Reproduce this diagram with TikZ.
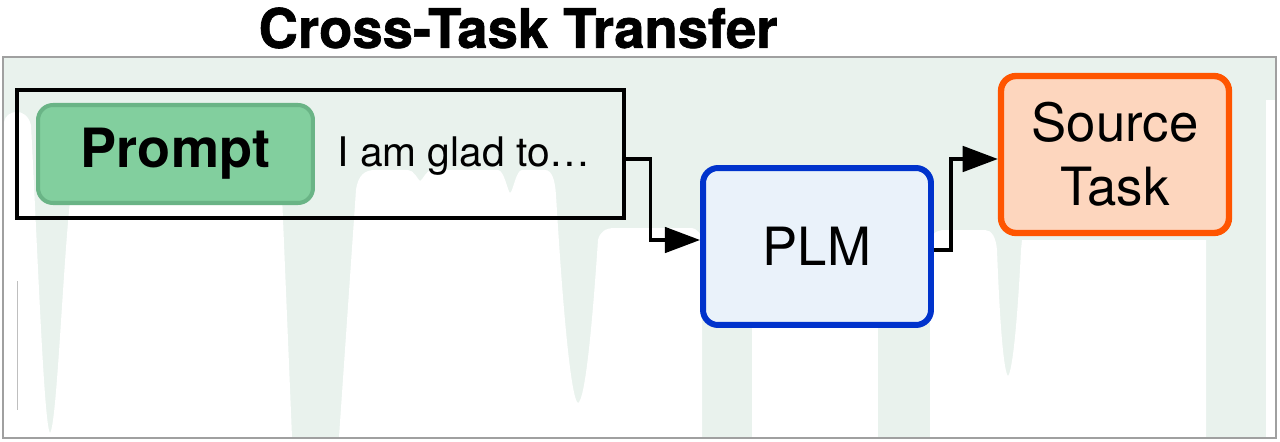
\documentclass[tikz,border=0pt]{standalone}
\usepackage{fontspec}
\setmainfont{TeX Gyre Heros}
\newfontfamily\titlefont{TeX Gyre Heros}[BoldFeatures={FakeBold=1.2}]
\usetikzlibrary{arrows.meta}
\definecolor{bggreen}{RGB}{233,242,237}
\definecolor{framegray}{RGB}{160,160,160}
\definecolor{btnfill}{RGB}{130,207,158}
\definecolor{btndraw}{RGB}{106,180,134}
\definecolor{plmfill}{RGB}{234,242,250}
\definecolor{plmdraw}{RGB}{0,51,204}
\definecolor{srcfill}{RGB}{253,214,190}
\definecolor{srcdraw}{RGB}{255,85,0}
\tikzset{
  arr/.style={line width=1.9pt, -{Triangle[length=20pt,width=14.5pt]}},
  boxstyle/.style={rounded corners=0.3cm, minimum width=4.56cm, minimum height=3.14cm, line width=3.4pt, inner sep=0pt, align=center},
  bigtext/.style={font=\fontsize{30}{36.3}\selectfont}
}
\begin{document}
\begin{tikzpicture}[x=0.02cm,y=-0.02cm]
\useasboundingbox (0,0) rectangle (1280,442);
\fill[white] (0,0) rectangle (1280,442);
% background
\fill[bggreen] (3,57) rectangle (1276,438);
\fill[white] (4,437) -- (4,122) .. controls (6,110) and (26,106) .. (31,125)
  .. controls (38,260) and (44,425) .. (50,433) .. controls (57,425) and (63,260) .. (71,192)
  .. controls (73,182) and (80,180) .. (90,180) -- (265,180) .. controls (275,180) and (281,185) .. (282,195)
  -- (292,437) -- cycle;
\fill[white] (339,437) -- (356,190) .. controls (358,175) and (365,170) .. (375,170) -- (408,170)
  .. controls (414,170) and (418,180) .. (420,181) .. controls (423,180) and (426,170) .. (432,170)
  -- (498,170) .. controls (504,170) and (508,192) .. (510,193) .. controls (513,192) and (516,170) .. (522,170)
  -- (545,170) .. controls (552,170) and (555,180) .. (556,195)
  .. controls (564,330) and (572,400) .. (578,403) .. controls (585,400) and (592,330) .. (598,240)
  .. controls (600,232) and (605,228) .. (615,228) -- (690,228) .. controls (698,228) and (702,234) .. (702,245)
  -- (702,437) -- cycle;
\fill[white] (752,300) rectangle (878,437);
\fill[white] (930,437) -- (930,245) .. controls (930,235) and (935,230) .. (945,230) -- (985,230)
  .. controls (992,230) and (996,238) .. (997,250) .. controls (1000,330) and (1004,372) .. (1008,376)
  .. controls (1012,372) and (1017,330) .. (1021,250) -- (1022,240) -- (1206,240) -- (1206,437) -- cycle;
\fill[white] (1266,100) rectangle (1275,437);
\draw[gray!50, line width=0.5pt] (17,281) -- (17,410);
\draw[framegray, line width=1.1pt] (3,57) rectangle (1276,438);
% title
\node[font=\titlefont\fontsize{31}{36}\selectfont\bfseries] (title) at (518,28) {Cross-Task Transfer};
% prompt box
\node[draw=black, line width=1.9pt, minimum width=12.14cm, minimum height=2.56cm, inner sep=0pt] (outer) at (320.5,154) {};
\node[fill=btnfill, draw=btndraw, line width=2.3pt, rounded corners=0.3cm, minimum width=5.5cm, minimum height=1.96cm, inner sep=0pt, font=\fontsize{30.8}{36}\selectfont\bfseries] (prompt) at (175.5,154) {Prompt};
\node[anchor=base west, inner sep=0pt, font=\fontsize{23.2}{28}\selectfont] (txt) at (337,167) {I am glad to…};
% PLM and Source Task
\node[boxstyle, fill=plmfill, draw=plmdraw, bigtext] (plm) at (817,246.5) {PLM};
\node[boxstyle, fill=srcfill, draw=srcdraw, line width=3.6pt, bigtext] (src) at (1115,154.5) {Source\\Task};
% connectors
\draw[arr] ([yshift=-0.1cm]outer.east) -- ++(25,0) |- ([yshift=0.13cm]plm.west);
\draw[arr] ([yshift=-0.07cm]plm.east) -- ++(17,0) |- ([yshift=-0.09cm]src.west);
\end{tikzpicture}
\end{document}
